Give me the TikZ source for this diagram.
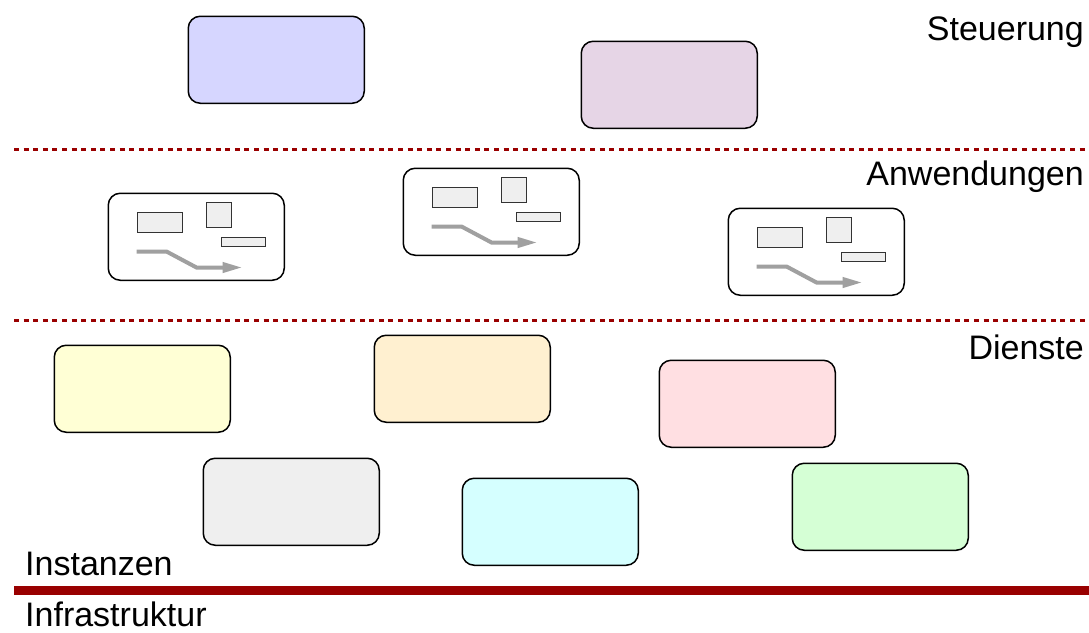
\documentclass[tikz,border=0pt]{standalone}
\usepackage{fontspec}
\setmainfont{Liberation Sans}
\usetikzlibrary{arrows.meta}
\definecolor{layerred}{HTML}{990000}
\definecolor{fillblue}{HTML}{D6D6FF}
\definecolor{fillpurple}{HTML}{E6D5E6}
\definecolor{fillyellow}{HTML}{FFFFD5}
\definecolor{fillorange}{HTML}{FFF0D0}
\definecolor{fillpink}{HTML}{FFDFE2}
\definecolor{fillgray}{HTML}{EFEFEF}
\definecolor{fillcyan}{HTML}{D5FFFF}
\definecolor{fillgreen}{HTML}{D5FFD5}
\definecolor{flowgray}{HTML}{A0A0A0}
\tikzset{
  box/.style={draw=black, line width=1.5pt, rounded corners=12pt,
    rectangle, inner sep=0pt, minimum width=176pt, minimum height=87pt,
    anchor=north west},
  lbl/.style={inner sep=0pt, font=\fontsize{34}{40}\selectfont},
  divider/.style={draw=layerred, line width=3pt, dash pattern=on 5pt off 4.6pt},
  baseline rule/.style={draw=layerred, line width=9pt},
  part/.style={draw=black!80, fill=fillgray, line width=1pt},
  flow/.style={draw=flowgray, line width=4pt,
    -{Triangle[length=20pt,width=10pt]}}
}
% small application sketch: blocks and a data flow, drawn inside a box
\newcommand{\appsketch}[1]{%
  \begin{scope}[shift={(#1.north west)}]
    \draw[part] (30,20) rectangle (75,40);
    \draw[part] (99,10) rectangle (124,35);
    \draw[part] (114,45) rectangle (158,54);
    \draw[flow] (29,59) -- (59,59) -- (89,75) -- (135,75);
  \end{scope}}
\begin{document}
\begin{tikzpicture}[x=1pt, y=-1pt]
  \useasboundingbox (0,0) rectangle (1089,632);

  % layer labels
  \node[lbl, anchor=base east] (steuerung) at (1084,40) {Steuerung};
  \node[lbl, anchor=base east] (anwendungen) at (1084,185) {Anwendungen};
  \node[lbl, anchor=base east] (dienste) at (1084,359) {Dienste};
  \node[lbl, anchor=base west] (instanzen) at (25,575) {Instanzen};
  \node[lbl, anchor=base west] (infra) at (25,626) {Infrastruktur};

  % layer separators
  \coordinate (d1a) at (14,149);  \coordinate (d1b) at (1089,149);
  \coordinate (d2a) at (14,320);  \coordinate (d2b) at (1089,320);
  \coordinate (r1a) at (14,590);  \coordinate (r1b) at (1089,590);
  \draw[divider] (d1a) -- (d1b);
  \draw[divider] (d2a) -- (d2b);
  \draw[baseline rule] (r1a) -- (r1b);

  % control layer
  \node[box, fill=fillblue] (ctrlA) at (187.5,15.5) {};
  \node[box, fill=fillpurple] (ctrlB) at (580.5,40.5) {};

  % applications
  \node[box, fill=white] (appA) at (107.5,192.5) {};
  \node[box, fill=white] (appB) at (402.5,167.5) {};
  \node[box, fill=white] (appC) at (727.5,207.5) {};
  \appsketch{appA}
  \appsketch{appB}
  \appsketch{appC}

  % services
  \node[box, fill=fillyellow] (svcA) at (53.5,344.5) {};
  \node[box, fill=fillorange] (svcB) at (373.5,334.5) {};
  \node[box, fill=fillpink] (svcC) at (658.5,359.5) {};
  \node[box, fill=fillgray] (svcD) at (202.5,457.5) {};
  \node[box, fill=fillcyan] (svcE) at (461.5,477.5) {};
  \node[box, fill=fillgreen] (svcF) at (791.5,462.5) {};
\end{tikzpicture}
\end{document}
